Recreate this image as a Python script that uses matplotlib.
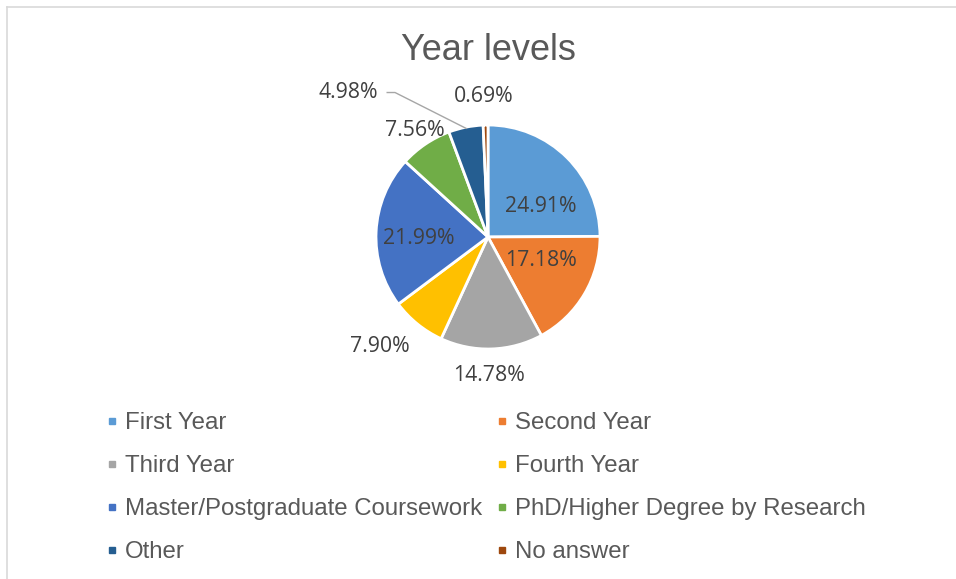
import matplotlib
matplotlib.use('Agg')
import matplotlib.pyplot as plt
from matplotlib.lines import Line2D
import numpy as np

categories = ['First Year', 'Second Year', 'Third Year', 'Fourth Year',
              'Master/Postgraduate Coursework', 'PhD/Higher Degree by Research',
              'Other', 'No answer']
shares = [24.91, 17.18, 14.78, 7.90, 21.99, 7.56, 4.98, 0.69]
colors = ['#5B9BD5', '#ED7D31', '#A5A5A5', '#FFC000',
          '#4472C4', '#70AD47', '#255E91', '#9E480E']

# label positions in pie-radius units (Excel "best fit" placement)
label_pos = [(0.47, 0.27), (0.47, -0.21), (0.01, -1.24), (-0.97, -0.98),
             (-0.62, -0.01), (-0.65, 0.95), (-1.25, 1.29), (-0.04, 1.25)]

W, H = 956, 579
fig = plt.figure(figsize=(W / 100, H / 100), dpi=100)

# chart frame (partially cropped)
fig.add_artist(Line2D([7 / W, 1], [1 - 7 / H, 1 - 7 / H], color='#D9D9D9', lw=1.2))
fig.add_artist(Line2D([7 / W, 7 / W], [0, 1 - 7 / H], color='#D9D9D9', lw=1.2))

cx, cy, r = 488, 237, 112
ax = fig.add_axes([(cx - 2 * r) / W, (H - cy - 2 * r) / H, 4 * r / W, 4 * r / H])

wedges, _ = ax.pie(shares, colors=colors, startangle=90, counterclock=False,
                   radius=1, wedgeprops=dict(edgecolor='white', linewidth=2))
ax.set_xlim(-2, 2)
ax.set_ylim(-2, 2)
ax.axis('off')

for val, (x, y) in zip(shares, label_pos):
    ax.text(x, y, f'{val:.2f}%', ha='center', va='center', fontsize=15.3,
            color='#404040', family='Open Sans')

# leader line for "Other"
w = wedges[6]
mid = np.deg2rad((w.theta1 + w.theta2) / 2)
ex, ey = np.cos(mid), np.sin(mid)
lx, ly = label_pos[6]
ax.plot([lx + 0.35, lx + 0.42, ex * 0.99], [ly, ly, ey * 0.99], color='#A6A6A6', lw=1)

fig.text(cx / W, 1 - 51 / H, 'Year levels', ha='center', va='center',
         fontsize=26, color='#595959', family='Liberation Sans')

# legend filled row by row
order = [0, 2, 4, 6, 1, 3, 5, 7]
handles = [Line2D([], [], marker='s', ls='', color=colors[i], markersize=5) for i in order]
fig.legend(handles, [categories[i] for i in order], ncol=2, loc='upper left',
           bbox_to_anchor=(107 / W, 1 - 412 / H), frameon=False,
           prop=dict(family='Liberation Sans', size=17.3), labelcolor='#595959',
           handlelength=0.45, handletextpad=0.3, labelspacing=0.88,
           columnspacing=0.6, borderpad=0, borderaxespad=0)

fig.savefig('out.png', dpi=100)
